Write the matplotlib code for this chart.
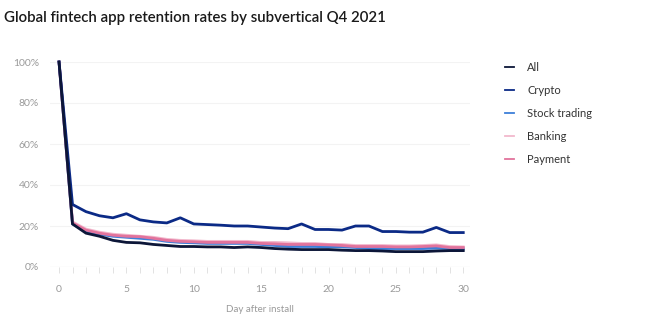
import matplotlib
matplotlib.use("Agg")
import matplotlib.pyplot as plt

# data (retention %, day 0..30)
days = list(range(31))
all_apps = [100, 21, 16.5, 15, 13, 12, 11.8, 11, 10.5, 10, 10, 9.8, 9.8, 9.5, 9.8, 9.5,
            9, 8.7, 8.5, 8.5, 8.5, 8.2, 8, 8, 7.8, 7.5, 7.5, 7.5, 7.8, 8, 8]
crypto = [100, 30.5, 27, 25, 24, 26, 23, 22, 21.5, 24, 21, 20.7, 20.4, 20, 20, 19.5,
          19, 18.7, 21, 18.3, 18.3, 18, 20, 20, 17.3, 17.3, 17, 17, 19.3, 16.8, 16.8]
stock = [100, 21, 17.5, 16, 15, 14.5, 14, 13.5, 12.5, 12, 11.8, 11.5, 11.5, 11.5, 11.5, 11,
         10.5, 10, 10, 10, 9.8, 9.8, 9.5, 9, 9, 9, 9, 9, 9.2, 9, 8.8]
banking = [100, 22, 18.5, 17, 16, 15.5, 15, 14.5, 13.5, 13, 12.8, 12.5, 12.5, 12.5, 12.5, 12,
           12, 11.8, 11.5, 11.5, 11, 11, 10.5, 10.5, 10.5, 10.3, 10.3, 10.5, 10.8, 10, 9.8]
payment = [100, 21.5, 18, 16.5, 15.5, 15, 14.8, 14, 13, 12.5, 12.3, 12, 12, 12, 12, 11.5,
           11.3, 11, 11, 11, 10.8, 10.5, 10, 10, 10, 9.8, 9.8, 10, 10.3, 9.5, 9.5]

series_names = ["All", "Crypto", "Stock trading", "Banking", "Payment"]
series_vals = [all_apps, crypto, stock, banking, payment]
colors = ["#0c1638", "#0b2a86", "#3d7fd9", "#f2b9cd", "#e2739c"]
zorders = [6, 5, 3, 2, 4]

yticks = [0, 20, 40, 60, 80, 100]
xticks = [0, 5, 10, 15, 20, 25, 30]

plt.rcParams["font.family"] = ["Lato", "DejaVu Sans"]

fig = plt.figure(figsize=(6.46, 3.29), dpi=100)
ax = fig.add_axes([50 / 646, 1 - 267 / 329, 420 / 646, 205 / 329])

lines = []
for name, vals, c, z in zip(series_names, series_vals, colors, zorders):
    ln, = ax.plot(days, vals, color=c, lw=2.0, label=name, zorder=z,
                  clip_on=False, solid_joinstyle="round")
    lines.append(ln)

ax.set_xlim(-0.67, 30.5)
ax.set_ylim(0, 100)
ax.set_yticks(yticks)
ax.set_yticklabels([f"{v}%" for v in yticks])
ax.set_xticks(xticks)
ax.set_xticks(days, minor=True)

for v in yticks[1:]:
    ax.axhline(v, color="#f3f3f3", lw=0.8, zorder=0)
ax.axhline(0, color="#d9d9d9", lw=0.8, zorder=1)

for s in ax.spines.values():
    s.set_visible(False)

ax.tick_params(axis="y", length=0, pad=8, labelsize=7.5, labelcolor="#9a9a9a")
ax.tick_params(axis="x", which="both", length=4, width=0.6, color="#dddddd",
               pad=9, labelsize=7.5, labelcolor="#9a9a9a")

ax.set_xlabel("Day after install", fontsize=7, color="#9a9a9a", labelpad=8)

fig.text(4 / 646, 1 - 18 / 329, "Global fintech app retention rates by subvertical Q4 2021",
         fontsize=10.8, fontweight="semibold", color="#1a1a1a", va="center", ha="left")

leg = ax.legend(handles=lines, loc="upper left", bbox_to_anchor=(495 / 646, 1 - 52 / 329),
                bbox_transform=fig.transFigure, frameon=False, fontsize=8,
                handlelength=0.8, handletextpad=1.2, labelspacing=1.08)
for t in leg.get_texts():
    t.set_color("#333333")
for h in leg.legend_handles:
    h.set_linewidth(1.3)

fig.savefig("out.png", dpi=100)
